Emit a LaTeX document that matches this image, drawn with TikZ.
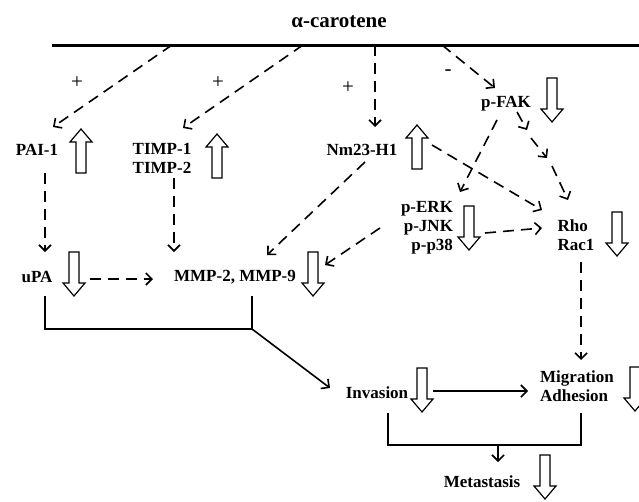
\documentclass[tikz,border=0pt]{standalone}
\usepackage{fontspec}
\setmainfont{Liberation Serif}
\usetikzlibrary{calc,arrows.meta}
\tikzset{
  lbl/.style={font=\fontsize{17}{19}\selectfont\bfseries, inner sep=0pt},
  sgn/.style={font=\fontsize{21}{22}\selectfont, inner sep=0pt},
  tip/.style={-{Straight Barb[length=6pt,width=12pt]}},
  dsh/.style={line width=1.6pt, dash pattern=on 11pt off 7pt, tip},
  sol/.style={line width=1.6pt},
  hollow/.style={line width=1.2pt, draw=black, fill=white},
  up/.pic={\draw[hollow] (0,0) -- (11,13) -- (5,13) -- (5,44) -- (-5,44) -- (-5,13) -- (-11,13) -- cycle;},
  dn/.pic={\draw[hollow] (0,44) -- (11,31) -- (5,31) -- (5,0) -- (-5,0) -- (-5,31) -- (-11,31) -- cycle;}
}
\begin{document}
\begin{tikzpicture}[x=1pt,y=-1pt]
\useasboundingbox (0,0) rectangle (639,501);
% title and bar
\node[lbl, font=\fontsize{21}{22}\selectfont\bfseries] (title) at (339,22) {α-carotene};
\draw[line width=3pt] (52,45) coordinate (barL) -- (639,45) coordinate (barR);
\coordinate (b1) at (172,45);
\coordinate (b2) at (303,45);
\coordinate (b3) at (375,45);
\coordinate (b4) at (442,45);
% nodes
\node[lbl] (pai) at (37,150) {PAI-1};
\node[lbl, align=center] (timp) at (162,158) {TIMP-1\\TIMP-2};
\node[lbl] (nm) at (362,150) {Nm23-H1};
\node[lbl] (pfak) at (506,104) {p-FAK};
\node[lbl, align=right] (perk) at (427,228) {p-ERK\\p-JNK\\p-p38};
\node[lbl, align=left] (rho) at (576,235) {Rho\\Rac1};
\node[lbl] (upa) at (37,277) {uPA};
\node[lbl] (mmp) at (235,277) {MMP-2, MMP-9};
\node[lbl] (inv) at (377,393) {Invasion};
\node[lbl, align=left] (mig) at (577,386) {Migration\\Adhesion};
\node[lbl] (met) at (482,482) {Metastasis};
% signs
\node[sgn] (s1) at (77,83) {+};
\node[sgn] (s2) at (218,83) {+};
\node[sgn] (s3) at (348,88) {+};
\node[sgn] (s4) at (448,73) {-};
% hollow arrows
\pic at (81,129) {up};
\pic at (217,134) {up};
\pic at (417,125) {up};
\pic at (552,78) {dn};
\pic at (469,206) {dn};
\pic at (617,212) {dn};
\pic at (74,252) {dn};
\pic at (313,252) {dn};
\pic at (422,368) {dn};
\pic at (635,367) {dn};
\pic at (545,455) {dn};
% dashed connectors
\draw[dsh] (b1) -- ($(pai)+(16,-23)$);
\draw[dsh] (b2) -- ($(timp)+(21,-30)$);
\draw[dsh] (b3) -- ($(nm)+(13,-23)$);
\draw[dsh] (b4) -- ($(pfak)+(-11,-16)$);
\draw[dsh] ($(pai)+(8,23)$) -- ($(upa)+(8,-25)$);
\draw[dsh] ($(timp)+(12,20)$) -- ($(mmp)+(-61,-25)$);
\draw[dsh] ($(upa)+(53,2)$) -- ($(mmp)+(-82,2)$);
\draw[dsh] ($(nm)+(3,12)$) -- ($(mmp)+(32,-22)$);
\draw[dsh] ($(perk)+(-47,0)$) -- ($(mmp)+(90,-12)$);
\draw[dsh] ($(pfak)+(-9,16)$) -- ($(perk)+(33,-36)$);
% p-FAK -> Rho, drawn as three arrowed dashes
\coordinate (f1) at (527,130);
\coordinate (f2) at (531,138);
\coordinate (f3) at (547,158);
\coordinate (f4) at (552,166);
\draw[dsh] ($(pfak)+(11,8)$) -- (f1);
\draw[dsh] (f2) -- (f3);
\draw[dsh] (f4) -- ($(rho)+(-8,-35)$);
\draw[dsh] ($(nm)+(70,-5)$) -- ($(rho)+(-34,-25)$);
\draw[dsh] ($(perk)+(58,5)$) -- ($(rho)+(-34,-7)$);
\draw[dsh] ($(rho)+(5,27)$) -- ($(mig)+(4,-26)$);
% solid connectors
\coordinate (j1) at (252,329);
\draw[sol] ($(upa)+(8,19)$) |- (j1);
\draw[sol, tip] ($(mmp)+(17,19)$) -- (j1) -- ($(inv)+(-47,-5)$);
\draw[sol, tip] ($(inv)+(56,-2)$) -- ($(mig)+(-49,5)$);
\coordinate (j2) at (498,445);
\draw[sol] ($(inv)+(11,20)$) |- (j2) -| ($(mig)+(4,27)$);
\draw[sol, tip] (j2) -- ($(met)+(16,-20)$);
\end{tikzpicture}
\end{document}
